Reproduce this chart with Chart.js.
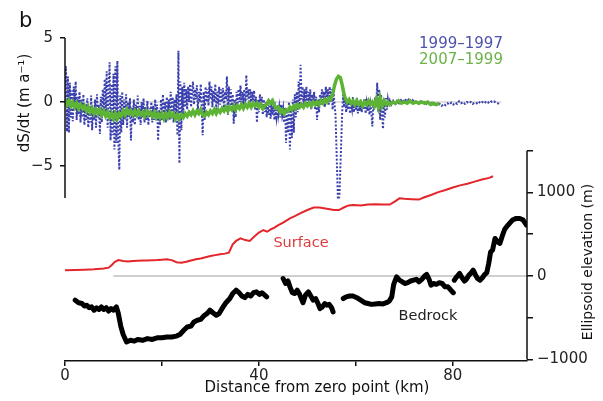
<!DOCTYPE html>
<html lang="en">
<head>
<meta charset="UTF-8">
<title>dS/dt and elevation profile</title>
<script src="https://cdn.jsdelivr.net/npm/chart.js"></script>
<style>
  html, body { margin: 0; padding: 0; background: #fff; }
</style>
</head>
<body>
<canvas id="chart" width="603" height="401"></canvas>
<script>
// [km, dS/dt (m/a)] 1999-1997, drawn as a dotted line
const rate9997 = [
  [0.0, 0.3], [0.2, 2.8], [0.4, -2.3], [0.6, 2.0], [0.8, -2.4], [1.0, 1.5], [1.2, -1.2], [1.4, 0.9], [1.6, -1.5], [1.8, 1.2],
  [2.0, -0.6], [2.2, 1.6], [2.4, -1.4], [2.6, 0.4], [2.8, -1.0], [3.0, 0.8], [3.2, -1.6], [3.4, 0.2], [3.6, -1.2], [3.8, 0.6],
  [4.0, -1.8], [4.2, -0.2], [4.4, -1.4], [4.6, 0.3], [4.8, -2.0], [5.0, -0.4], [5.2, -1.6], [5.4, 0.5], [5.6, -2.2], [5.8, -0.6],
  [6.0, -1.4], [6.2, 0.2], [6.4, -2.0], [6.6, 0.6], [6.8, -1.2], [7.0, -0.2], [7.2, -2.5], [7.4, 0.4], [7.6, -1.6], [7.8, 1.0],
  [8.0, -1.0], [8.2, 1.8], [8.4, -0.8], [8.6, 2.4], [8.8, -2.0], [9.0, 0.8], [9.2, 3.1], [9.4, -3.0], [9.6, 1.4], [9.8, -2.6],
  [10.0, 2.2], [10.2, -3.7], [10.4, 2.8], [10.6, -3.2], [10.8, 3.2], [11.0, -3.0], [11.2, -5.3], [11.4, 0.5], [11.6, -2.4], [11.8, 0.8],
  [12.0, -1.8], [12.2, 0.2], [12.4, -1.4], [12.6, 0.6], [12.8, -2.0], [13.0, 0.0], [13.2, -1.2], [13.4, 0.3], [13.6, -3.0], [13.8, -0.4],
  [14.0, -1.6], [14.2, 0.2], [14.4, -1.8], [14.6, -0.2], [14.8, -1.2], [15.0, 0.5], [15.2, -1.4], [15.4, -0.3], [15.6, -1.8], [15.8, 0.0],
  [16.0, -1.2], [16.2, 0.3], [16.4, -1.6], [16.6, -0.4], [16.8, -1.4], [17.0, 0.1], [17.2, -1.8], [17.4, -0.5], [17.6, -1.2], [17.8, 0.0],
  [18.0, -1.6], [18.2, -0.3], [18.4, -1.4], [18.6, 0.2], [18.8, -1.0], [19.0, -0.2], [19.2, -3.0], [19.4, -0.6], [19.6, -1.8], [19.8, 0.2],
  [20.0, -1.4], [20.2, 0.6], [20.4, -1.0], [20.6, 0.0], [20.8, -1.6], [21.0, 0.4], [21.2, -1.0], [21.4, 0.2], [21.6, -1.4], [21.8, 0.8],
  [22.0, -0.8], [22.2, 0.4], [22.4, -1.6], [22.6, 0.2], [22.8, -1.0], [23.0, 0.6], [23.2, -2.6], [23.4, 4.0], [23.6, -4.8], [23.8, 1.6],
  [24.0, -2.2], [24.2, 1.2], [24.4, -1.0], [24.6, 1.5], [24.8, -0.4], [25.0, 1.0], [25.2, -0.6], [25.4, 1.2], [25.6, 0.0], [25.8, 1.4],
  [26.0, -0.4], [26.2, 0.8], [26.4, 1.6], [26.6, -0.2], [26.8, 1.0], [27.0, 0.2], [27.2, 1.3], [27.4, -0.6], [27.6, 0.8], [27.8, 0.0],
  [28.0, 1.4], [28.2, -0.4], [28.4, -2.6], [28.6, 0.8], [28.8, -1.4], [29.0, 1.2], [29.2, 0.0], [29.4, 1.0], [29.6, -0.3], [29.8, 1.6],
  [30.0, 0.2], [30.2, 1.2], [30.4, -0.4], [30.6, 0.9], [30.8, 0.0], [31.0, 1.4], [31.2, -0.6], [31.4, 0.8], [31.6, 0.2], [31.8, 1.2],
  [32.0, -0.2], [32.2, 1.0], [32.4, 0.0], [32.6, 1.1], [32.8, -0.6], [33.0, 0.8], [33.2, 0.2], [33.4, 2.0], [33.6, -1.0], [33.8, 1.2],
  [34.0, -0.2], [34.2, 1.0], [34.4, -0.6], [34.6, 0.6], [34.8, -1.7], [35.0, 0.2], [35.2, -1.2], [35.4, 0.8], [35.6, -0.2], [35.8, 1.0],
  [36.0, 0.0], [36.2, 1.3], [36.4, -0.2], [36.6, 0.8], [36.8, 0.2], [37.0, 1.0], [37.2, -0.4], [37.4, 2.1], [37.6, 0.2], [37.8, 1.0],
  [38.0, -0.4], [38.2, 1.0], [38.4, 0.0], [38.6, 0.8], [38.8, -0.2], [39.0, 0.9], [39.2, -0.6], [39.4, 0.4], [39.6, -1.6], [39.8, 0.2],
  [40.0, -0.8], [40.2, 0.6], [40.4, -0.4], [40.6, 0.4], [40.8, -1.0], [41.0, 0.2], [41.2, -0.8], [41.4, 0.0], [41.6, -1.2], [41.8, -0.2],
  [42.0, -1.0], [42.2, -0.2], [42.4, -1.3], [42.6, -0.4], [42.8, -1.0], [43.0, -0.3], [43.2, -1.4], [43.4, -0.6], [43.6, -1.2], [43.8, -0.2],
  [44.0, -1.0], [44.2, -0.4], [44.4, -1.2], [44.6, -0.2], [44.8, -1.0], [45.0, -0.5], [45.2, -1.6], [45.4, -0.4], [45.6, -3.2], [45.8, -0.8],
  [46.0, -2.4], [46.2, 0.0], [46.4, -3.7], [46.6, -0.6], [46.8, -2.8], [47.0, 0.2], [47.2, -2.4], [47.4, 0.6], [47.6, -1.2], [47.8, 0.8],
  [48.0, -0.8], [48.2, 1.6], [48.4, -0.4], [48.6, 2.9], [48.8, 0.2], [49.0, 1.2], [49.2, -0.2], [49.4, 1.0], [49.6, 0.0], [49.8, 1.2],
  [50.0, -0.4], [50.2, 0.8], [50.4, 0.0], [50.6, 1.0], [50.8, -0.6], [51.0, 0.6], [51.2, -0.2], [51.4, 0.8], [51.6, -0.6], [51.8, 0.4],
  [52.0, -1.4], [52.2, 0.2], [52.4, -0.8], [52.6, 0.6], [52.8, -0.2], [53.0, 1.0], [53.2, 0.0], [53.4, 0.8], [53.6, -0.4], [53.8, 1.2],
  [54.0, 0.2], [54.2, 1.0], [54.4, -0.2], [54.6, 1.2], [54.8, 0.0], [55.0, 1.0], [55.2, -0.6], [55.4, 0.8], [55.6, -0.2], [55.8, -1.0],
  [56.3, -7.6], [56.6, -7.4], [57.2, -0.6],
  [57.4, 0.6], [57.6, -0.4], [57.8, 0.4], [58.0, -0.8], [58.2, 0.2], [58.4, -0.6], [58.6, 0.3], [58.8, -0.9], [59.0, 0.0], [59.2, -0.5],
  [59.4, 0.4], [59.6, -0.8], [59.8, 0.1], [60.0, -0.6], [60.2, 0.3], [60.4, -0.9], [60.6, 0.0], [60.8, -0.7], [61.0, 0.2], [61.2, -0.8],
  [61.4, 0.0], [61.6, -0.6], [61.8, 0.3], [62.0, -0.9], [62.2, -0.1], [62.4, -0.7], [62.6, 0.2], [62.8, -1.0], [63.0, -0.2], [63.2, -0.8],
  [63.4, -1.9], [63.6, 0.0], [63.8, -0.6], [64.0, 0.4], [64.2, -0.4], [64.4, 1.5], [64.6, -0.8], [64.8, 1.0], [65.0, -1.4], [65.2, 0.6],
  [65.4, -1.0], [65.6, -2.1], [65.8, 0.2], [66.0, -1.2], [66.2, 0.3], [66.4, -0.6], [66.6, 0.2], [66.8, -0.3], [67.0, 0.1],
  [67.3, -0.2], [67.7, 0.1], [68.1, -0.15], [68.5, 0.1], [68.9, -0.1], [69.3, 0.15],
  [69.7, 0.0], [70.1, 0.25], [70.5, 0.05], [70.9, 0.2], [71.3, 0.0], [71.7, 0.15], [72.1, -0.05], [72.5, 0.1],
  [72.9, -0.1], [73.3, 0.05], [73.7, -0.1], [74.1, 0.0], [74.5, -0.15], [74.9, 0.0], [75.3, -0.2], [75.7, -0.05],
  [76.1, -0.2], [76.5, -0.1], [76.9, -0.3], [77.3, -0.15], [77.7, -0.3], [78.1, -0.15], [78.5, -0.25], [78.9, -0.1],
  [79.3, -0.2], [79.7, -0.05], [80.1, -0.2], [80.5, -0.05], [80.9, -0.15], [81.3, 0.05], [81.7, -0.1], [82.1, 0.0],
  [82.5, -0.15], [82.9, 0.0], [83.3, -0.1], [83.7, 0.0], [84.1, -0.15], [84.5, -0.05], [84.9, -0.1], [85.3, 0.05],
  [85.7, -0.1], [86.1, 0.0], [86.5, -0.1], [86.9, 0.05], [87.3, -0.05], [87.7, 0.1], [88.1, 0.0], [88.5, 0.05],
  [88.9, -0.05], [89.3, -0.1], [89.7, -0.2]
];

// [km, dS/dt (m/a)] 2007-1999
const rate0799 = [
  [0.0, 0.2], [0.4, -0.2], [0.8, 0.1], [1.2, -0.3], [1.6, 0.0], [2.0, -0.4], [2.4, -0.1], [2.8, -0.5],
  [3.2, -0.2], [3.6, -0.5], [4.0, -0.3], [4.4, -0.7], [4.8, -0.4], [5.2, -0.8], [5.6, -0.5], [6.0, -0.9],
  [6.4, -0.6], [6.8, -0.9], [7.2, -0.6], [7.6, -1.0], [8.0, -0.7], [8.4, -1.1], [8.8, -0.8], [9.2, -1.2],
  [9.6, -0.9], [10.0, -1.3], [10.4, -0.9], [10.8, -1.3], [11.2, -0.9], [11.6, -1.1], [12.0, -0.7], [12.4, -1.0],
  [12.8, -0.6], [13.2, -0.9], [13.6, -0.7], [14.0, -1.0], [14.4, -0.7], [14.8, -1.0], [15.2, -0.7], [15.6, -1.0],
  [16.0, -0.8], [16.4, -1.1], [16.8, -0.7], [17.2, -1.0], [17.6, -0.8], [18.0, -1.1], [18.4, -0.8], [18.8, -1.2],
  [19.2, -0.9], [19.6, -1.2], [20.0, -0.9], [20.4, -1.3], [20.8, -0.9], [21.2, -1.2], [21.6, -0.8], [22.0, -1.1],
  [22.4, -0.9], [22.8, -1.3], [23.2, -1.0], [23.6, -1.3], [24.0, -1.0], [24.4, -1.2], [24.8, -0.9], [25.2, -1.1],
  [25.6, -0.8], [26.0, -1.0], [26.4, -0.7], [26.8, -1.0], [27.2, -0.7], [27.6, -0.9], [28.0, -0.6], [28.4, -1.0],
  [28.8, -1.1], [29.2, -0.8], [29.6, -1.0], [30.0, -0.7], [30.4, -0.9], [30.8, -0.6], [31.2, -0.9], [31.6, -0.6],
  [32.0, -0.8], [32.4, -0.5], [32.8, -0.7], [33.2, -0.4], [33.6, -0.7], [34.0, -0.4], [34.4, -0.6], [34.8, -0.3],
  [35.2, -0.6], [35.6, -0.3], [36.0, -0.5], [36.4, -0.2], [36.8, -0.5], [37.2, -0.2], [37.6, -0.4], [38.0, -0.1],
  [38.4, -0.4], [38.8, -0.1], [39.2, -0.3], [39.6, -0.1], [40.0, -0.4], [40.4, -0.2], [40.8, -0.5], [41.2, -0.3],
  [41.6, -0.2], [42.0, 0.1], [42.4, -0.1], [42.8, 0.1], [43.2, -0.3], [43.6, -0.5], [44.0, -0.4], [44.4, -0.8],
  [44.8, -0.6], [45.2, -0.9], [45.6, -0.6], [46.0, -0.7], [46.4, -0.4], [46.8, -0.6], [47.2, -0.3], [47.6, -0.5],
  [48.0, -0.2], [48.4, -0.4], [48.8, -0.2], [49.2, -0.4], [49.6, -0.1], [50.0, -0.3], [50.4, -0.1], [50.8, -0.3],
  [51.2, 0.0], [51.6, -0.2], [52.0, 0.0], [52.4, -0.2], [52.8, 0.1], [53.2, -0.1], [53.6, 0.2], [54.0, 0.0],
  [54.4, 0.3], [54.8, 0.2], [55.2, 0.6], [55.6, 1.3], [56.0, 1.8], [56.4, 2.0], [56.8, 1.9], [57.2, 1.3],
  [57.5, 0.7], [57.8, 0.3], [58.2, 0.0], [58.6, 0.2], [59.0, -0.1], [59.4, 0.1], [59.8, -0.2], [60.2, 0.1],
  [60.6, -0.2], [61.0, 0.0], [61.4, -0.3], [61.8, 0.0], [62.2, -0.2], [62.6, 0.1], [63.0, -0.2], [63.4, 0.0],
  [63.8, -0.3], [64.2, 0.2], [64.6, -0.4], [65.0, 0.3], [65.4, -0.3], [65.8, 0.1], [66.2, -0.2], [66.6, 0.0],
  [67.0, -0.2], [67.6, 0.0], [68.2, -0.1], [68.8, 0.1], [69.4, -0.1], [70.0, 0.0], [70.6, -0.1], [71.2, 0.1],
  [71.8, -0.1], [72.4, 0.0], [73.0, -0.1], [73.6, 0.0], [74.2, -0.1], [74.8, 0.0], [75.4, -0.2], [76.0, -0.1],
  [76.6, -0.2], [77.2, -0.1]
];

// [km, ellipsoid elevation (m)]
const surface = [
  [0, 70], [2, 72], [4, 75], [6, 80], [8, 90], [9, 100], [9.6, 130], [10.3, 170], [11, 190], [12, 180],
  [13, 175], [14, 180], [15, 182], [16, 185], [17, 187], [18, 190], [19, 192], [20, 196], [21, 200], [22, 190],
  [23, 165], [24, 160], [25, 170], [26, 185], [27, 200], [28, 210], [29, 225], [30, 240], [31, 250], [32, 260],
  [33, 268], [33.8, 280], [34.6, 380], [35.3, 420], [36.2, 450], [37.2, 430], [38.1, 420], [39, 470], [40, 520],
  [40.9, 550], [41.7, 530], [42.5, 560], [43.2, 580], [44, 610], [45, 640], [46.4, 690], [47.5, 720], [48.5, 750],
  [50, 790], [51.3, 820], [52.5, 820], [54, 805], [55.5, 790], [56.5, 790], [57.5, 820], [58.5, 845], [59.5, 850],
  [61, 845], [62.5, 855], [64, 860], [65.5, 855], [67, 855], [68, 890], [69, 930], [70, 925], [71.5, 920],
  [73, 915], [74, 940], [75.5, 970], [77, 1005], [78.5, 1030], [80, 1060], [81.5, 1085], [83, 1105],
  [84.5, 1130], [86, 1155], [87.5, 1175], [88.3, 1195]
];

// [km, ellipsoid elevation (m)], null = no data
const bedrock = [
  [2.1, -290], [2.8, -320], [3.5, -330], [4.0, -360], [4.5, -350], [5.0, -380], [5.5, -370], [6.0, -410],
  [6.5, -380], [7.0, -400], [7.5, -370], [8.0, -400], [8.5, -380], [9.0, -420], [9.5, -390], [10.0, -410],
  [10.6, -370], [11.0, -450], [11.5, -600], [12.0, -700], [12.7, -790], [13.5, -770], [14.3, -780], [15.0, -760],
  [16.0, -770], [17.0, -750], [18.0, -760], [19.0, -740], [20.0, -740], [21.0, -730], [22.0, -730], [23.0, -720],
  [23.7, -700], [24.5, -650], [25.2, -610], [26.0, -600], [26.6, -550], [27.3, -530], [28.0, -520], [28.6, -480],
  [29.3, -450], [29.9, -410], [30.5, -440], [31.2, -470], [31.8, -450], [32.5, -380], [33.2, -320], [34.0, -270],
  [34.6, -210], [35.3, -170], [35.9, -200], [36.5, -240], [37.1, -260], [37.7, -220], [38.3, -240], [38.9, -200],
  [39.5, -190], [40.1, -220], [40.6, -200], [41.2, -230], [41.6, -250],
  [43.0, null],
  [45.0, -30], [45.5, -90], [46.0, -60], [46.4, -130], [46.9, -200], [47.4, -210], [47.9, -170], [48.4, -220],
  [49.1, -320], [49.6, -230], [50.2, -190], [50.7, -240], [51.2, -290], [51.7, -270], [52.2, -330], [52.6, -390],
  [53.1, -370], [53.6, -330], [54.0, -350], [54.5, -340], [55.0, -380], [55.3, -430],
  [56.4, null],
  [57.4, -270], [58.0, -250], [58.7, -240], [59.4, -240], [60.2, -260], [61.0, -290], [61.8, -320], [62.5, -330],
  [63.2, -340], [64.0, -335], [64.8, -330], [65.6, -335], [66.3, -320], [66.9, -300], [67.4, -250], [67.8, -100],
  [68.4, -10], [69.0, -50], [69.6, -70], [70.1, -90], [70.7, -80], [71.3, -60], [71.9, -50], [72.5, -40],
  [73.0, -70], [73.6, -40], [74.2, 0], [74.6, 20], [75.1, -40], [75.5, -110], [76.0, -90], [76.6, -100],
  [77.2, -80], [77.8, -90], [78.4, -130], [79.0, -130], [79.6, -170], [80.1, -200],
  [80.2, null],
  [80.3, -50], [80.8, -10], [81.4, 30], [81.9, -20], [82.4, -60], [82.8, -40], [83.3, 10], [83.8, 40],
  [84.2, 70], [84.7, 10], [85.1, -30], [85.6, -50], [86.1, -20], [86.6, 20], [87.0, 40], [87.4, 150],
  [87.8, 290], [88.2, 310], [88.7, 450], [89.2, 410], [89.7, 390], [90.2, 480], [90.7, 560], [91.1, 590],
  [91.7, 630], [92.3, 670], [93.1, 690], [93.8, 690], [94.5, 670], [95.2, 610]
];

// zero reference lines [km from, km to]
const rateZeroKm = [0, 90];
const elevZeroKm = [10, 95.3];

// axes
const kmTicks = [0, 20, 40, 60, 80];
const kmLabels = [0, 40, 80];
const rateTicks = [-5, 0, 5];
const rateAxisSpan = [5, -7.5];
const elevTicks = [-1000, -500, 0, 500, 1000, 1500];
const elevLabels = [-1000, 0, 1000];
const elevAxisSpan = [1500, -1000];

const FONT = 'DejaVu Sans';
const toXY = arr => arr.map(p => ({ x: p[0], y: p[1] }));
const minus = v => String(v).replace('-', '\u2212');

const extras = {
  id: 'extras',
  afterDraw(chart) {
    const { ctx, chartArea, scales } = chart;
    ctx.save();
    // vertical axis lines
    ctx.strokeStyle = '#111';
    ctx.lineWidth = 1.5;
    ctx.beginPath();
    ctx.moveTo(chartArea.left, scales.y1.getPixelForValue(rateAxisSpan[0]));
    ctx.lineTo(chartArea.left, scales.y1.getPixelForValue(rateAxisSpan[1]));
    ctx.moveTo(chartArea.right, scales.y2.getPixelForValue(elevAxisSpan[0]));
    ctx.lineTo(chartArea.right, scales.y2.getPixelForValue(elevAxisSpan[1]));
    ctx.stroke();

    ctx.textBaseline = 'middle';
    ctx.textAlign = 'left';
    ctx.fillStyle = '#111';
    ctx.font = '21px ' + FONT;
    ctx.fillText('b', 19, 22);

    ctx.textAlign = 'center';
    ctx.font = '15px ' + FONT;
    ctx.fillText('Distance from zero point (km)', 317, 388);

    ctx.save();
    ctx.translate(25, 103);
    ctx.rotate(-Math.PI / 2);
    ctx.fillText('dS/dt (m a\u207B\u00B9)', 0, 0);
    ctx.restore();

    ctx.save();
    ctx.translate(588, 262);
    ctx.rotate(-Math.PI / 2);
    ctx.font = '14px ' + FONT;
    ctx.fillText('Ellipsoid elevation (m)', 0, 0);
    ctx.restore();

    ctx.font = '15px ' + FONT;
    ctx.fillStyle = '#4d53ab';
    ctx.fillText('1999\u20131997', 461, 44);
    ctx.fillStyle = '#6cb347';
    ctx.fillText('2007\u20131999', 461, 60);

    ctx.font = '14.5px ' + FONT;
    ctx.fillStyle = '#dc3a3c';
    ctx.fillText('Surface', 301, 243);
    ctx.fillStyle = '#222';
    ctx.fillText('Bedrock', 428, 316);
    ctx.restore();
  }
};

const tickFont = { family: FONT, size: 15 };

new Chart(document.getElementById('chart'), {
  type: 'line',
  data: {
    datasets: [
      {
        label: '2007-1999',
        data: toXY(rate0799),
        yAxisID: 'y1',
        borderColor: '#5db333',
        borderWidth: 3.5,
        pointRadius: 0,
        tension: 0,
        order: 1
      },
      {
        label: '1999-1997',
        data: toXY(rate9997),
        yAxisID: 'y1',
        borderColor: '#3a3fae',
        borderWidth: 2,
        borderDash: [2, 1.8],
        pointRadius: 0,
        tension: 0,
        order: 2
      },
      {
        label: 'Bedrock',
        data: toXY(bedrock),
        yAxisID: 'y2',
        borderColor: '#000',
        borderWidth: 5,
        borderJoinStyle: 'round',
        borderCapStyle: 'round',
        spanGaps: false,
        pointRadius: 0,
        order: 3
      },
      {
        label: 'Surface',
        data: toXY(surface),
        yAxisID: 'y2',
        borderColor: '#e3262b',
        borderWidth: 2,
        pointRadius: 0,
        order: 4
      },
      {
        label: 'zero',
        data: elevZeroKm.map(k => ({ x: k, y: 0 })),
        yAxisID: 'y2',
        borderColor: '#cfcfcf',
        borderWidth: 2,
        pointRadius: 0,
        order: 5
      },
      {
        label: 'zero rate',
        data: rateZeroKm.map(k => ({ x: k, y: 0 })),
        yAxisID: 'y1',
        borderColor: '#d4d4d4',
        borderWidth: 1.5,
        pointRadius: 0,
        order: 6
      }
    ]
  },
  options: {
    responsive: false,
    animation: false,
    devicePixelRatio: 1,
    layout: { padding: { top: 30, left: 0, right: 0, bottom: 0 } },
    plugins: { legend: { display: false }, tooltip: { enabled: false } },
    scales: {
      x: {
        type: 'linear',
        min: 0,
        max: 95.3,
        afterFit: s => { s.height = 40; },
        afterBuildTicks: s => { s.ticks = kmTicks.map(v => ({ value: v })); },
        ticks: {
          font: tickFont,
          color: '#222',
          padding: 1,
          maxRotation: 0,
          callback: v => kmLabels.includes(v) ? String(v) : ''
        },
        grid: { drawOnChartArea: false, drawTicks: true, tickLength: 5, color: '#111', lineWidth: 1.5 },
        border: { display: true, color: '#111', width: 1.5 }
      },
      y1: {
        type: 'linear',
        position: 'left',
        min: -20.23,
        max: 5.625,
        afterFit: s => { s.width = 65; },
        afterBuildTicks: s => { s.ticks = rateTicks.map(v => ({ value: v })); },
        ticks: { font: tickFont, color: '#222', padding: 7, callback: v => minus(v) },
        grid: { drawOnChartArea: false, drawTicks: true, tickLength: 5, color: '#111', lineWidth: 1.5 },
        border: { display: false }
      },
      y2: {
        type: 'linear',
        position: 'right',
        min: -1018,
        max: 2946,
        afterFit: s => { s.width = 76; },
        afterBuildTicks: s => { s.ticks = elevTicks.map(v => ({ value: v })); },
        ticks: {
          font: tickFont,
          color: '#222',
          padding: 4,
          callback: v => elevLabels.includes(v) ? minus(v) : ''
        },
        grid: { drawOnChartArea: false, drawTicks: true, tickLength: 6, color: '#111', lineWidth: 1.5 },
        border: { display: false }
      }
    }
  },
  plugins: [extras]
});
</script>
</body>
</html>
